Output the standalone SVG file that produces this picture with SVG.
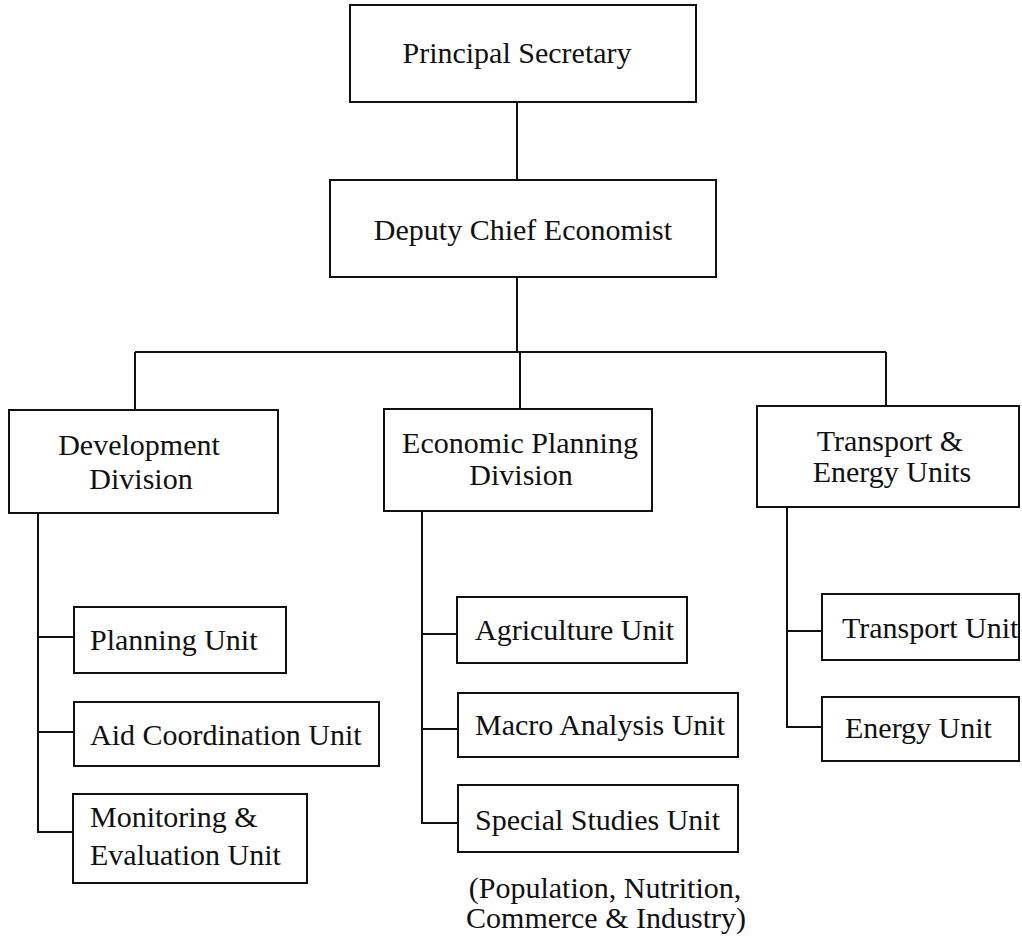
<svg xmlns="http://www.w3.org/2000/svg" width="1022" height="939" viewBox="0 0 1022 939">
<style>
rect{fill:#fff;stroke:#111;stroke-width:2}
text{font-family:"Liberation Serif","Times New Roman",serif;font-size:30px;fill:#111}
.m{text-anchor:middle}
#connectors path{fill:none;stroke:#111;stroke-width:2}
</style>
<rect x="0" y="0" width="1022" height="939" style="fill:#fff;stroke:none"/>
<g id="connectors">
<path d="M517 102V352M135 352H886M135 352V410M520 352V409M886 352V406"/>
<path d="M38 513V832H73M38 637H74M38 732H74"/>
<path d="M422 511V823H458M422 634H457M422 729H458"/>
<path d="M787 507V727H822M787 631H822"/>
</g>
<g id="principal"><rect x="350" y="5" width="346" height="97"/><text class="m" x="517" y="63">Principal Secretary</text></g>
<g id="deputy"><rect x="330" y="180" width="386" height="97"/><text class="m" x="523" y="240">Deputy Chief Economist</text></g>
<g id="development"><rect x="9" y="410" width="269" height="103"/><text class="m" x="139" y="455">Development</text><text class="m" x="141" y="489">Division</text></g>
<g id="economic"><rect x="384" y="409" width="268" height="102"/><text class="m" x="520" y="453">Economic Planning</text><text class="m" x="521" y="485">Division</text></g>
<g id="transport-energy"><rect x="757" y="406" width="262" height="101"/><text class="m" x="890" y="451">Transport &amp;</text><text class="m" x="892" y="482">Energy Units</text></g>
<g id="planning"><rect x="74" y="607" width="212" height="66"/><text x="90" y="650">Planning Unit</text></g>
<g id="aid"><rect x="74" y="702" width="305" height="64"/><text x="90" y="745">Aid Coordination Unit</text></g>
<g id="monitoring"><rect x="73" y="794" width="234" height="89"/><text x="90" y="827">Monitoring &amp;</text><text x="90" y="865">Evaluation Unit</text></g>
<g id="agriculture"><rect x="457" y="597" width="230" height="66"/><text x="475" y="640">Agriculture Unit</text></g>
<g id="macro"><rect x="458" y="693" width="280" height="64"/><text x="475" y="735">Macro Analysis Unit</text></g>
<g id="special"><rect x="458" y="785" width="280" height="67"/><text x="475" y="830">Special Studies Unit</text></g>
<g id="special-note"><text class="m" x="605" y="898">(Population, Nutrition,</text><text class="m" x="606" y="928">Commerce &amp; Industry)</text></g>
<g id="transport"><rect x="822" y="594" width="197" height="66"/><text x="842" y="638">Transport Unit</text></g>
<g id="energy"><rect x="822" y="697" width="197" height="64"/><text x="845" y="738">Energy Unit</text></g>
</svg>
